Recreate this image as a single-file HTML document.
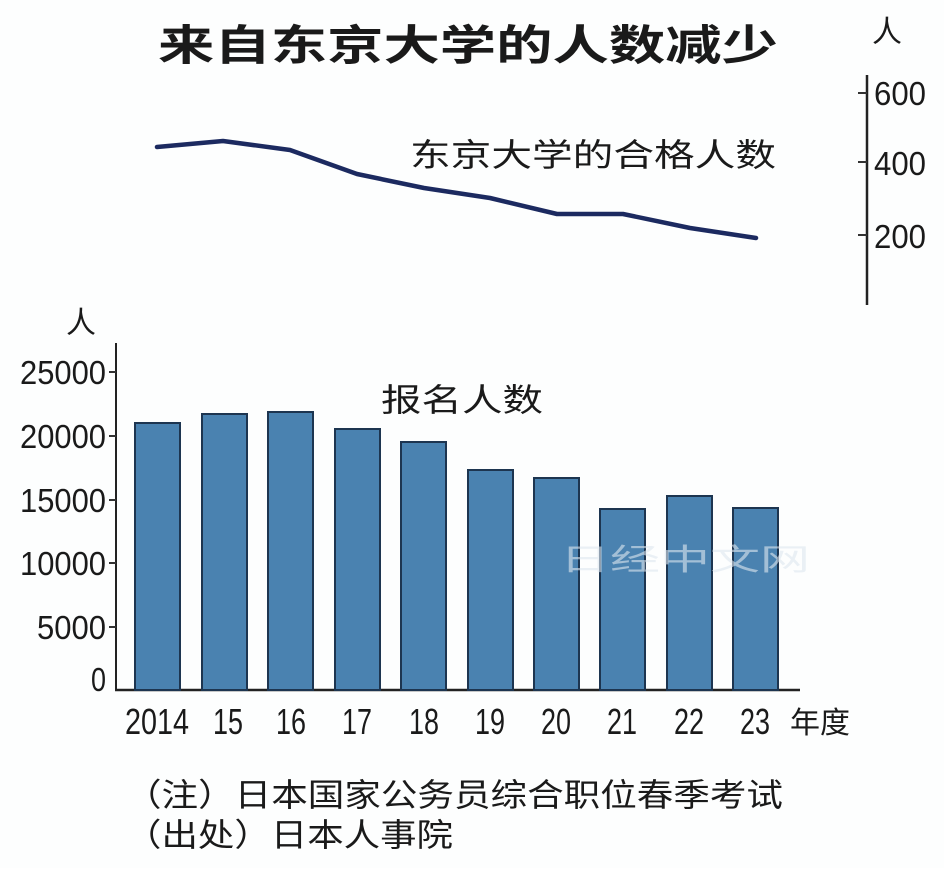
<!DOCTYPE html>
<html><head><meta charset="utf-8"><style>
html,body{margin:0;padding:0;background:#fff;}
svg text{font-family:"Liberation Sans","Noto Sans CJK SC",sans-serif;fill:#1a1a1a;}
</style></head><body>
<svg width="944" height="868" viewBox="0 0 944 868" xmlns="http://www.w3.org/2000/svg">
<rect width="944" height="868" fill="#fdfefe"/>
<text x="158" y="60" font-size="42" font-weight="bold" textLength="620" lengthAdjust="spacingAndGlyphs">来自东京大学的人数减少</text>
<!-- right axis -->
<text x="872" y="42" font-size="30">人</text>
<line x1="867" y1="75" x2="867" y2="305" stroke="#222" stroke-width="2.5"/>
<g stroke="#333" stroke-width="2"><line x1="858" y1="93" x2="867" y2="93"/><line x1="858" y1="162" x2="867" y2="162"/><line x1="858" y1="235" x2="867" y2="235"/></g>
<g font-size="33"><text x="874" y="105" textLength="52" lengthAdjust="spacingAndGlyphs">600</text><text x="874" y="175" textLength="52" lengthAdjust="spacingAndGlyphs">400</text><text x="874" y="248" textLength="52" lengthAdjust="spacingAndGlyphs">200</text></g>
<text x="410" y="166" font-size="32" textLength="366" lengthAdjust="spacingAndGlyphs">东京大学的合格人数</text>
<polyline points="157,147 223,141 290,150 357,174 424,188 490,198 557,214 623,214 690,228 756,238" fill="none" stroke="#1c2a60" stroke-width="4.5" stroke-linejoin="round" stroke-linecap="round"/>
<!-- left axis -->
<text x="66" y="333" font-size="30">人</text>
<line x1="116" y1="343" x2="116" y2="691" stroke="#222" stroke-width="2"/>
<line x1="115" y1="690" x2="800" y2="690" stroke="#222" stroke-width="2.5"/>
<g stroke="#333" stroke-width="2"><line x1="109" y1="372" x2="116" y2="372"/><line x1="109" y1="436" x2="116" y2="436"/><line x1="109" y1="500" x2="116" y2="500"/><line x1="109" y1="563" x2="116" y2="563"/><line x1="109" y1="627" x2="116" y2="627"/></g>
<g font-size="33" text-anchor="end">
<text x="106" y="384" textLength="86" lengthAdjust="spacingAndGlyphs">25000</text>
<text x="106" y="448" textLength="86" lengthAdjust="spacingAndGlyphs">20000</text>
<text x="106" y="512" textLength="86" lengthAdjust="spacingAndGlyphs">15000</text>
<text x="106" y="575" textLength="86" lengthAdjust="spacingAndGlyphs">10000</text>
<text x="106" y="639" textLength="69" lengthAdjust="spacingAndGlyphs">5000</text>
<text x="106" y="691" textLength="15" lengthAdjust="spacingAndGlyphs">0</text>
</g>
<text x="381" y="411" font-size="32" textLength="162" lengthAdjust="spacingAndGlyphs">报名人数</text>
<g fill="#4a82b0" stroke="#1d3550" stroke-width="2">
<rect x="135" y="423" width="45" height="267"/>
<rect x="202" y="414" width="45" height="276"/>
<rect x="268" y="412" width="45" height="278"/>
<rect x="335" y="429" width="45" height="261"/>
<rect x="401" y="442" width="45" height="248"/>
<rect x="468" y="470" width="45" height="220"/>
<rect x="534" y="478" width="45" height="212"/>
<rect x="600" y="509" width="45" height="181"/>
<rect x="667" y="496" width="45" height="194"/>
<rect x="733" y="508" width="45" height="182"/>
</g>
<text x="560" y="570" font-size="30" style="fill:#dfe8f0" textLength="250" lengthAdjust="spacingAndGlyphs" opacity="0.6">日经中文网</text>
<g font-size="36" text-anchor="middle">
<text x="157" y="734" textLength="64" lengthAdjust="spacingAndGlyphs">2014</text>
<text x="228" y="734" textLength="30" lengthAdjust="spacingAndGlyphs">15</text>
<text x="291" y="734" textLength="30" lengthAdjust="spacingAndGlyphs">16</text>
<text x="357" y="734" textLength="30" lengthAdjust="spacingAndGlyphs">17</text>
<text x="424" y="734" textLength="30" lengthAdjust="spacingAndGlyphs">18</text>
<text x="490" y="734" textLength="30" lengthAdjust="spacingAndGlyphs">19</text>
<text x="556" y="734" textLength="30" lengthAdjust="spacingAndGlyphs">20</text>
<text x="622" y="734" textLength="30" lengthAdjust="spacingAndGlyphs">21</text>
<text x="689" y="734" textLength="30" lengthAdjust="spacingAndGlyphs">22</text>
<text x="755" y="734" textLength="30" lengthAdjust="spacingAndGlyphs">23</text>
</g>
<text x="790" y="733" font-size="30" textLength="60" lengthAdjust="spacingAndGlyphs">年度</text>
<text x="125" y="806" font-size="32" textLength="658" lengthAdjust="spacingAndGlyphs">（注）日本国家公务员综合职位春季考试</text>
<text x="125" y="846" font-size="32" textLength="328" lengthAdjust="spacingAndGlyphs">（出处）日本人事院</text>
</svg>
</body></html>
